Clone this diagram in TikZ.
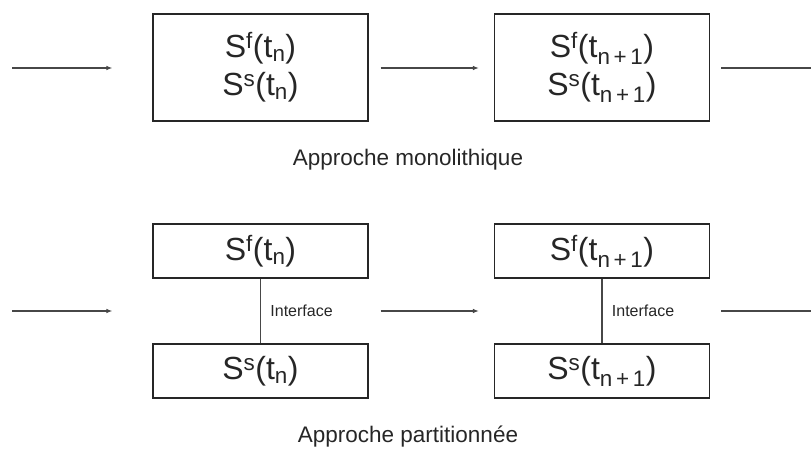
\documentclass[tikz,border=0pt]{standalone}
\usepackage{fontspec}
\setmainfont{Liberation Sans}
\usetikzlibrary{positioning,arrows.meta}
\definecolor{ink}{HTML}{262626}

\begin{document}
\begin{tikzpicture}[x=1pt,y=-1pt,every node/.style={text=ink},
    etat/.style={draw=ink,line width=1.1pt,minimum width=215pt,inner sep=0pt,font=\fontsize{32}{38}\selectfont},
    fleche/.style={draw=ink!85,line width=1.2pt,-{Latex[length=6pt,width=4.5pt]}},
    trait/.style={draw=ink!85,line width=1.2pt}]
    \useasboundingbox (0,0) rectangle (811,449);
    % approche monolithique
    \node[etat,minimum height=107pt,align=center] (m1) at (260.5,67.5) {S\textsuperscript{f}(t\textsubscript{n})\\S\textsuperscript{s}(t\textsubscript{n})};
    \node[etat,minimum height=107pt,align=center] (m2) at (602,67.5) {S\textsuperscript{f}(t\textsubscript{n\,+\,1})\\S\textsuperscript{s}(t\textsubscript{n\,+\,1})};
    \coordinate (min) at (12,68);
    \coordinate (mout) at (811,68);
    \draw[fleche,shorten >=40pt] (min) -- (min -| m1.west);
    \draw[fleche,shorten <=12pt,shorten >=15pt] (min -| m1.east) -- (min -| m2.west);
    \draw[trait,shorten <=11pt] (min -| m2.east) -- (mout);
    \node[font=\fontsize{22.5}{26}\selectfont] (lmono) at (408,160) {Approche monolithique};
    % approche partitionnee
    \node[etat,minimum height=54pt] (f1) at (260.5,251) {S\textsuperscript{f}(t\textsubscript{n})};
    \node[etat,minimum height=54pt] (s1) at (260.5,371) {S\textsuperscript{s}(t\textsubscript{n})};
    \node[etat,minimum height=54pt] (f2) at (602,251) {S\textsuperscript{f}(t\textsubscript{n\,+\,1})};
    \node[etat,minimum height=54pt] (s2) at (602,371) {S\textsuperscript{s}(t\textsubscript{n\,+\,1})};
    \draw[trait] (f1) -- node[right=6pt,font=\fontsize{16}{19}\selectfont] {Interface} (s1);
    \draw[trait] (f2) -- node[right=6pt,font=\fontsize{16}{19}\selectfont] {Interface} (s2);
    \coordinate (pin) at (12,311);
    \coordinate (pout) at (811,311);
    \draw[fleche,shorten >=40pt] (pin) -- (pin -| f1.west);
    \draw[fleche,shorten <=12pt,shorten >=15pt] (pin -| f1.east) -- (pin -| f2.west);
    \draw[trait,shorten <=11pt] (pin -| f2.east) -- (pout);
    \node[font=\fontsize{22.5}{26}\selectfont] (lpart) at (408,437) {Approche partitionnée};
\end{tikzpicture}
\end{document}
